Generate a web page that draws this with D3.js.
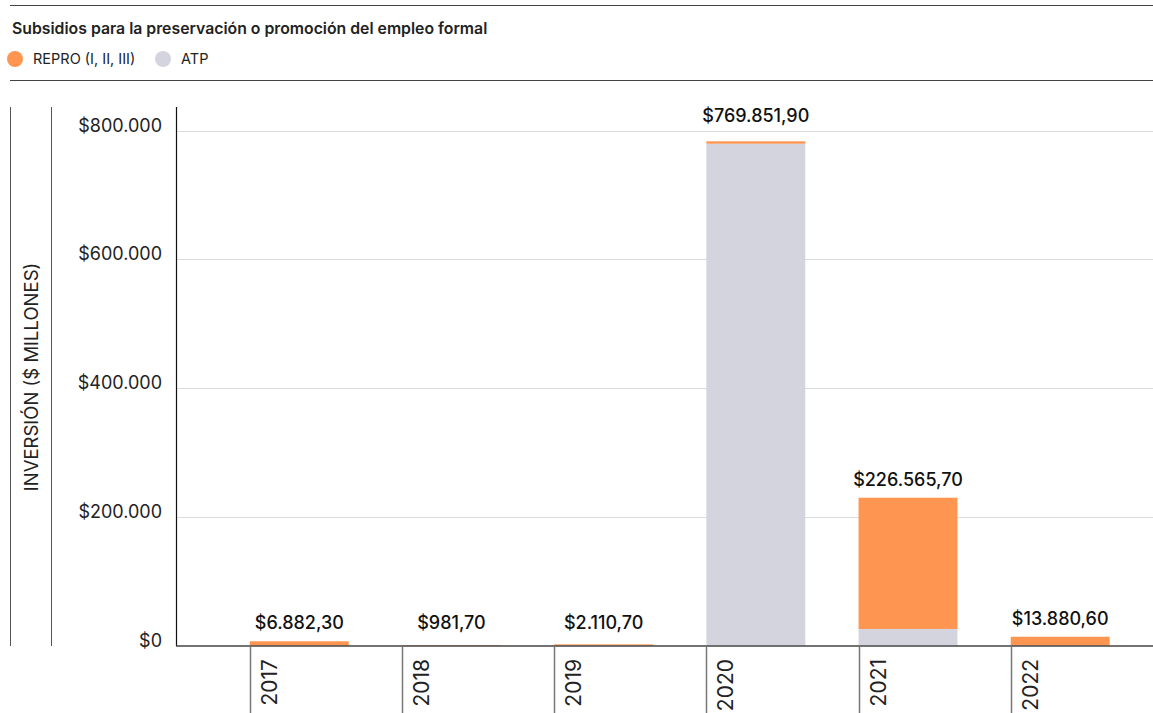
<!DOCTYPE html>
<html>
<head>
<meta charset="utf-8">
<script src="https://cdn.jsdelivr.net/npm/d3@7"></script>
<style>
  body { margin: 0; background: #fff; font-family: Inter, "Noto Sans", sans-serif; color: #222; }
</style>
</head>
<body>
<script>
// data
var years = ["2017", "2018", "2019", "2020", "2021", "2022"];
var repro = [6882.3, 981.7, 2110.7, 3700, 203900, 13880.6];
var atp = [0, 0, 0, 779800, 26000, 0];
var totals = [6882.3, 981.7, 2110.7, 769851.9, 226565.7, 13880.6];
var yTicks = [0, 200000, 400000, 600000, 800000];
var seriesNames = ["REPRO (I, II, III)", "ATP"];
var colors = ["#fe9651", "#d4d4df"];

var W = 1153, H = 713;
var locale = d3.formatLocale({decimal: ",", thousands: ".", grouping: [3], currency: ["$", ""]});
var fmtTick = locale.format("$,.0f");
var fmtVal = locale.format("$,.2f");

var svg = d3.select("body").append("svg")
    .attr("width", W)
    .attr("height", H);

// header rules
svg.append("line").attr("x1", 10).attr("x2", W).attr("y1", 5.5).attr("y2", 5.5)
    .attr("stroke", "#444").attr("stroke-width", 1);
svg.append("line").attr("x1", 10).attr("x2", W).attr("y1", 80.5).attr("y2", 80.5)
    .attr("stroke", "#444").attr("stroke-width", 1);

svg.append("text")
    .attr("x", 12).attr("y", 34)
    .attr("font-size", 15.8).attr("font-weight", 600)
    .attr("fill", "#222")
    .text("Subsidios para la preservación o promoción del empleo formal");

// legend
var legX = [15, 163];
seriesNames.forEach(function(n, i) {
    svg.append("circle").attr("cx", legX[i]).attr("cy", 59).attr("r", 8).attr("fill", colors[i]);
    svg.append("text").attr("x", legX[i] + 18).attr("y", 64)
        .attr("font-size", 14.5).attr("fill", "#222").text(n);
});

// scales
var y = d3.scaleLinear().domain([0, 800000]).range([645.7, 130.7]);
var x = d3.scaleBand().domain(years).range([176, W])
    .paddingInner(0.35).paddingOuter(0.385).align(0.63);

// side lines
svg.append("line").attr("x1", 10.5).attr("x2", 10.5).attr("y1", 107).attr("y2", 646)
    .attr("stroke", "#555");
svg.append("line").attr("x1", 51.5).attr("x2", 51.5).attr("y1", 107).attr("y2", 646)
    .attr("stroke", "#555");

svg.append("text")
    .attr("transform", "translate(37.5,377) rotate(-90)")
    .attr("text-anchor", "middle")
    .attr("font-size", 18.5).attr("fill", "#222")
    .text("INVERSIÓN ($ MILLONES)");

// gridlines
svg.selectAll(".grid").data(yTicks.filter(function(d) { return d > 0; }))
    .enter().append("line")
    .attr("x1", 177).attr("x2", W)
    .attr("y1", function(d) { return Math.round(y(d)) + 0.5; })
    .attr("y2", function(d) { return Math.round(y(d)) + 0.5; })
    .attr("stroke", "#dcdcdc");

// y axis labels
svg.selectAll(".ylab").data(yTicks)
    .enter().append("text")
    .attr("x", 162)
    .attr("y", function(d) { return y(d) + 1; })
    .attr("text-anchor", "end")
    .attr("font-size", 18).attr("fill", "#222")
    .text(function(d) { return fmtTick(d); });

// bars
var stackData = years.map(function(yr, i) { return {year: yr, atp: atp[i], repro: repro[i]}; });
var stack = d3.stack().keys(["atp", "repro"])(stackData);
var keyColor = {atp: colors[1], repro: colors[0]};

stack.forEach(function(layer) {
    svg.selectAll(".bar-" + layer.key)
        .data(layer)
        .enter().append("rect")
        .attr("x", function(d) { return x(d.data.year); })
        .attr("width", x.bandwidth())
        .attr("y", function(d) { return y(d[1]); })
        .attr("height", function(d) { return y(d[0]) - y(d[1]); })
        .attr("fill", keyColor[layer.key]);
});

// value labels (kept clear of the gridline above the tallest bar)
svg.selectAll(".vlab").data(years)
    .enter().append("text")
    .attr("x", function(d) { return x(d) + x.bandwidth() / 2; })
    .attr("y", function(d, i) {
        var ly = Math.min(y(repro[i] + atp[i]) - 12, 629);
        var top = y(800000);
        if (ly > top - 2 && ly < top + 16) ly = top - 9;
        return ly;
    })
    .attr("text-anchor", "middle")
    .attr("font-size", 18).attr("font-weight", 500).attr("fill", "#111")
    .text(function(d, i) { return fmtVal(totals[i]); });

// axis lines
svg.append("line").attr("x1", 176.5).attr("x2", 176.5).attr("y1", 107).attr("y2", 646)
    .attr("stroke", "#111").attr("stroke-width", 1.2);
svg.append("line").attr("x1", 176).attr("x2", W).attr("y1", 646).attr("y2", 646)
    .attr("stroke", "#444").attr("stroke-width", 1.5);

// x ticks + labels
svg.selectAll(".xtick").data(years)
    .enter().append("line")
    .attr("x1", function(d) { return Math.round(x(d)) + 0.5; })
    .attr("x2", function(d) { return Math.round(x(d)) + 0.5; })
    .attr("y1", 646).attr("y2", H)
    .attr("stroke", "#777").attr("stroke-width", 1.5);

svg.selectAll(".xlab").data(years)
    .enter().append("text")
    .attr("transform", function(d) { return "translate(" + (x(d) + 27) + ",659) rotate(-90)"; })
    .attr("text-anchor", "end")
    .attr("font-size", 21).attr("fill", "#222")
    .text(function(d) { return d; });
</script>
</body>
</html>
